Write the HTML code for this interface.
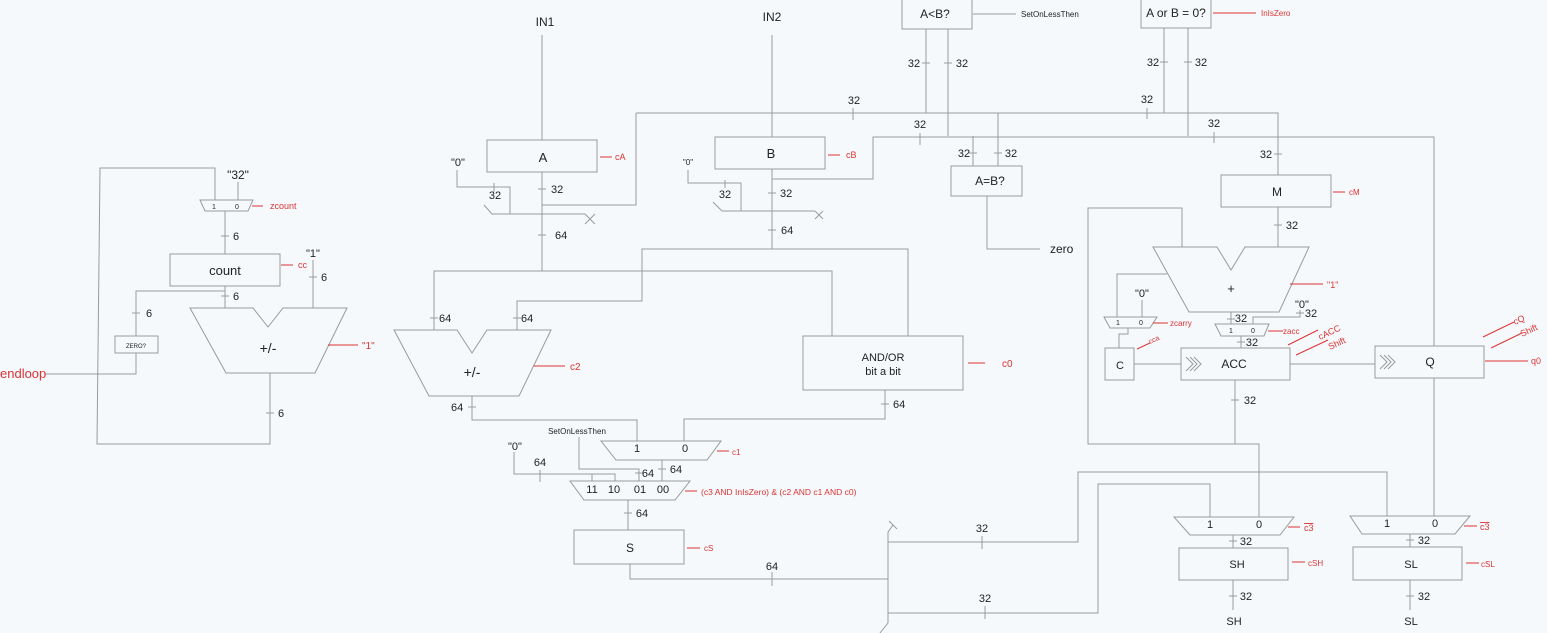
<!DOCTYPE html>
<html><head><meta charset="utf-8"><style>
html,body{margin:0;padding:0;background:#f5f9fc;}
svg{display:block;}
text{font-family:"Liberation Sans",sans-serif;fill:#222;}
.r{fill:#d33;}
</style></head><body>
<svg width="1547" height="633" viewBox="0 0 1547 633" xmlns="http://www.w3.org/2000/svg">
<rect width="1547" height="633" fill="#f5f9fc"/>
<g fill="none" stroke="#9a9a9a" stroke-width="1">
<!-- LEFT counter -->
<polyline points="215,200 215,168 100,168 97,444 270,444 270,373"/>
<polygon points="200,200 253,200 248,211 205,211"/>
<line x1="238" y1="182" x2="238" y2="200"/>
<line x1="225" y1="211" x2="225" y2="254"/>
<line x1="221" y1="236" x2="229" y2="236"/>
<rect x="170" y="254" width="110" height="32"/>
<line x1="313" y1="260" x2="313" y2="308"/>
<line x1="309" y1="277" x2="317" y2="277"/>
<line x1="225" y1="286" x2="225" y2="308"/>
<line x1="221" y1="296" x2="229" y2="296"/>
<polyline points="225,291 136,291 136,336"/>
<line x1="132" y1="313" x2="140" y2="313"/>
<rect x="115" y="336" width="43" height="17"/>
<polyline points="136,353 136,374 45,374"/>
<polygon points="190,308 253,308 268,327 283,308 347,308 315,373 226,373"/>
<line x1="266" y1="413" x2="274" y2="413"/>
<line x1="252" y1="206" x2="263" y2="206" stroke="#d33"/>
<line x1="281" y1="265" x2="293" y2="265" stroke="#d33"/>
<line x1="328" y1="345" x2="358" y2="345" stroke="#d33"/>
<line x1="45" y1="374" x2="136" y2="374"/>

<!-- A section -->
<line x1="542" y1="35" x2="542" y2="140"/>
<rect x="487" y="140" width="110" height="32"/>
<line x1="600" y1="157" x2="612" y2="157" stroke="#d33"/>
<polyline points="457,170 457,187 510,187 510,214"/>
<line x1="494" y1="183" x2="494" y2="192"/>
<polyline points="484,205 492,214 585,214"/>
<line x1="585" y1="214" x2="595" y2="224"/><line x1="595" y1="214" x2="585" y2="224"/>
<line x1="542" y1="172" x2="542" y2="271"/>
<line x1="538" y1="189" x2="546" y2="189"/>
<line x1="538" y1="235" x2="546" y2="235"/>
<polyline points="542,205 636,205 636,113"/>
<polyline points="434,330 434,271 832,271 832,336"/>
<line x1="430" y1="318" x2="438" y2="318"/>
<polyline points="517,330 517,301 642,301 642,249 908,249 908,336"/>
<line x1="513" y1="318" x2="521" y2="318"/>
<polygon points="394,330 457,330 472,353 487,330 551,330 519,396 429,396"/>
<line x1="534" y1="366" x2="565" y2="366" stroke="#d33"/>
<polyline points="472,396 472,420 637,420 637,441"/>
<line x1="468" y1="407" x2="476" y2="407"/>
<rect x="803" y="336" width="160" height="54"/>
<line x1="968" y1="363" x2="985" y2="363" stroke="#d33"/>
<polyline points="885,390 885,419 684,419 684,441"/>
<line x1="881" y1="404" x2="889" y2="404"/>

<!-- B section -->
<line x1="772" y1="35" x2="772" y2="137"/>
<rect x="715" y="137" width="110" height="32"/>
<line x1="828" y1="155" x2="840" y2="155" stroke="#d33"/>
<polyline points="688,170 688,183 741,183 741,211"/>
<line x1="725" y1="180" x2="725" y2="188"/>
<polyline points="713,202 722,211 815,211"/>
<line x1="815" y1="211" x2="823" y2="219"/><line x1="823" y1="211" x2="815" y2="219"/>
<line x1="772" y1="169" x2="772" y2="249"/>
<line x1="768" y1="193" x2="776" y2="193"/>
<line x1="768" y1="230" x2="776" y2="230"/>
<polyline points="772,179 873,179 873,137 1434,137 1434,516"/>
<line x1="920" y1="133" x2="920" y2="145"/>
<line x1="1214" y1="132" x2="1214" y2="143"/>

<!-- top comparators -->
<rect x="902" y="-2" width="70" height="31"/>
<line x1="973" y1="14" x2="1016" y2="14"/>
<line x1="926" y1="29" x2="926" y2="113"/>
<line x1="948" y1="29" x2="948" y2="136"/>
<line x1="922" y1="63" x2="930" y2="63"/><line x1="944" y1="63" x2="952" y2="63"/>
<rect x="1141" y="-2" width="70" height="30"/>
<line x1="1213" y1="13" x2="1256" y2="13" stroke="#d33"/>
<line x1="1164" y1="28" x2="1164" y2="113"/>
<line x1="1188" y1="28" x2="1188" y2="136"/>
<line x1="1160" y1="62" x2="1168" y2="62"/><line x1="1184" y1="62" x2="1192" y2="62"/>
<polyline points="636,113 1278,113 1278,175"/>
<line x1="853" y1="108" x2="853" y2="120"/>
<line x1="1147" y1="108" x2="1147" y2="119"/>
<line x1="973" y1="136" x2="973" y2="166"/>
<line x1="998" y1="113" x2="998" y2="166"/>
<line x1="969" y1="153" x2="977" y2="153"/><line x1="994" y1="153" x2="1002" y2="153"/>
<rect x="951" y="166" width="71" height="30"/>
<polyline points="987,196 987,249 1040,249"/>
<line x1="1274" y1="154" x2="1282" y2="154"/>

<!-- muxes bottom middle -->
<polygon points="601,441 721,441 707,460 616,460"/>
<line x1="717" y1="451" x2="729" y2="451" stroke="#d33"/>
<line x1="662" y1="460" x2="662" y2="481"/>
<line x1="658" y1="469" x2="666" y2="469"/>
<polyline points="579,437 579,469 639,469 639,481"/>
<line x1="635" y1="473" x2="643" y2="473"/>
<polyline points="514,452 514,474 615,474 615,481"/>
<line x1="592" y1="474" x2="592" y2="481"/>
<line x1="540" y1="470" x2="540" y2="482"/>
<polygon points="570,481 690,481 675,500 584,500"/>
<line x1="685" y1="491" x2="697" y2="491" stroke="#d33"/>
<line x1="628" y1="500" x2="628" y2="530"/>
<line x1="624" y1="513" x2="632" y2="513"/>
<rect x="574" y="530" width="110" height="34"/>
<line x1="687" y1="548" x2="700" y2="548" stroke="#d33"/>
<polyline points="630,564 630,579 888,579"/>
<line x1="772" y1="572" x2="772" y2="586"/>
<polyline points="888,532 888,623 880,633"/>
<line x1="888" y1="532" x2="893" y2="525"/>
<line x1="889" y1="521" x2="897" y2="529"/>
<polyline points="888,542 1078,542 1078,472 1387,472 1387,516"/>
<line x1="982" y1="536" x2="982" y2="549"/>
<polyline points="888,613 1098,613 1098,484 1210,484 1210,517"/>
<line x1="985" y1="606" x2="985" y2="619"/>

<!-- right multiplier -->
<rect x="1221" y="175" width="110" height="32"/>
<line x1="1333" y1="192" x2="1345" y2="192" stroke="#d33"/>
<line x1="1278" y1="207" x2="1278" y2="247"/>
<line x1="1274" y1="225" x2="1282" y2="225"/>
<polygon points="1153,247 1217,247 1231,270 1245,247 1309,247 1279,312 1189,312"/>
<line x1="1290" y1="284" x2="1323" y2="284" stroke="#d33"/>
<polyline points="1182,247 1182,208 1088,208 1088,444 1259,444 1259,517"/>
<line x1="1231" y1="312" x2="1231" y2="324"/>
<line x1="1227" y1="319" x2="1235" y2="319"/>
<polyline points="1167,274 1117,274 1117,317"/>
<polygon points="1104,317 1157,317 1150,328 1110,328"/>
<line x1="1142" y1="300" x2="1142" y2="317"/>
<line x1="1153" y1="323" x2="1168" y2="323" stroke="#d33"/>
<polyline points="1128,328 1128,334 1119,334 1119,348"/>
<rect x="1105" y="348" width="29" height="32"/>
<line x1="1137" y1="349" x2="1150" y2="343" stroke="#d33"/>
<line x1="1134" y1="364" x2="1181" y2="364"/>
<polygon points="1215,324 1269,324 1264,336 1221,336"/>
<polyline points="1300,310 1300,317 1253,317 1253,324"/>
<line x1="1296" y1="313" x2="1304" y2="313"/>
<line x1="1268" y1="331" x2="1283" y2="331" stroke="#d33"/>
<line x1="1241" y1="336" x2="1241" y2="348"/>
<line x1="1237" y1="342" x2="1245" y2="342"/>
<rect x="1181" y="348" width="109" height="32"/>
<polyline points="1186,357 1193,364 1186,371"/><polyline points="1190,357 1197,364 1190,371"/><polyline points="1194,357 1201,364 1194,371"/>
<line x1="1288" y1="345" x2="1318" y2="330" stroke="#d33"/>
<line x1="1296" y1="355" x2="1328" y2="340" stroke="#d33"/>
<line x1="1290" y1="364" x2="1375" y2="364"/>
<rect x="1375" y="346" width="109" height="32" fill="#f5f9fc"/>
<polyline points="1380,355 1387,362 1380,369"/><polyline points="1384,355 1391,362 1384,369"/><polyline points="1388,355 1395,362 1388,369"/>
<line x1="1483" y1="337" x2="1514" y2="322" stroke="#d33"/>
<line x1="1491" y1="348" x2="1522" y2="333" stroke="#d33"/>
<line x1="1485" y1="361" x2="1528" y2="361" stroke="#d33"/>
<line x1="1235" y1="380" x2="1235" y2="444"/>
<line x1="1231" y1="400" x2="1239" y2="400"/>

<!-- SH / SL -->
<polygon points="1174,517 1294,517 1280,535 1190,535"/>
<line x1="1288" y1="527" x2="1300" y2="527" stroke="#d33"/>
<line x1="1233" y1="535" x2="1233" y2="548"/>
<line x1="1229" y1="541" x2="1237" y2="541"/>
<rect x="1179" y="548" width="109" height="32"/>
<line x1="1292" y1="562" x2="1305" y2="562" stroke="#d33"/>
<line x1="1233" y1="580" x2="1233" y2="610"/>
<line x1="1229" y1="596" x2="1237" y2="596"/>
<polygon points="1350,516 1470,516 1455,534 1362,534"/>
<line x1="1464" y1="526" x2="1477" y2="526" stroke="#d33"/>
<line x1="1410" y1="534" x2="1410" y2="547"/>
<line x1="1406" y1="540" x2="1414" y2="540"/>
<rect x="1353" y="547" width="109" height="33"/>
<line x1="1466" y1="563" x2="1479" y2="563" stroke="#d33"/>
<line x1="1410" y1="580" x2="1410" y2="610"/>
<line x1="1406" y1="596" x2="1414" y2="596"/>
</g>

<g font-size="11">
<!-- left -->
<text x="238" y="179" text-anchor="middle" font-size="12">"32"</text>
<text x="214" y="209" text-anchor="middle" font-size="7">1</text>
<text x="237" y="209" text-anchor="middle" font-size="7">0</text>
<text class="r" x="270" y="209" font-size="9">zcount</text>
<text x="233" y="240">6</text>
<text x="225" y="275" text-anchor="middle" font-size="13">count</text>
<text class="r" x="298" y="268" font-size="9">cc</text>
<text x="313" y="257" text-anchor="middle">"1"</text>
<text x="321" y="281">6</text>
<text x="233" y="300">6</text>
<text x="146" y="317">6</text>
<text x="136" y="348" text-anchor="middle" font-size="6">ZERO?</text>
<text class="r" x="0" y="378" font-size="13">endloop</text>
<text x="268" y="353" text-anchor="middle" font-size="14">+/-</text>
<text class="r" x="362" y="349" font-size="10">"1"</text>
<text x="278" y="417">6</text>
<!-- A/B -->
<text x="545" y="26" text-anchor="middle" font-size="12">IN1</text>
<text x="772" y="21" text-anchor="middle" font-size="12">IN2</text>
<text x="543" y="162" text-anchor="middle" font-size="13">A</text>
<text class="r" x="615" y="160" font-size="9">cA</text>
<text x="458" y="166" text-anchor="middle">"0"</text>
<text x="495" y="199" text-anchor="middle">32</text>
<text x="551" y="193">32</text>
<text x="555" y="239">64</text>
<text x="771" y="158" text-anchor="middle" font-size="13">B</text>
<text class="r" x="846" y="158" font-size="9">cB</text>
<text x="688" y="165" text-anchor="middle" font-size="8">"0"</text>
<text x="725" y="198" text-anchor="middle">32</text>
<text x="780" y="197">32</text>
<text x="781" y="234">64</text>
<text x="439" y="322">64</text>
<text x="521" y="322">64</text>
<text x="472" y="377" text-anchor="middle" font-size="14">+/-</text>
<text class="r" x="570" y="370" font-size="10">c2</text>
<text x="451" y="411">64</text>
<text x="883" y="361" text-anchor="middle" font-size="11">AND/OR</text>
<text x="883" y="375" text-anchor="middle" font-size="11">bit a bit</text>
<text class="r" x="1002" y="367" font-size="10">c0</text>
<text x="893" y="408">64</text>
<!-- top -->
<text x="935" y="18" text-anchor="middle" font-size="12">A&lt;B?</text>
<text x="1021" y="17" font-size="8">SetOnLessThen</text>
<text x="1176" y="17" text-anchor="middle" font-size="12">A or B = 0?</text>
<text class="r" x="1261" y="16" font-size="8">InIsZero</text>
<text x="914" y="67" text-anchor="middle">32</text>
<text x="962" y="67" text-anchor="middle">32</text>
<text x="1153" y="66" text-anchor="middle">32</text>
<text x="1201" y="66" text-anchor="middle">32</text>
<text x="854" y="104" text-anchor="middle">32</text>
<text x="1147" y="103" text-anchor="middle">32</text>
<text x="920" y="128" text-anchor="middle">32</text>
<text x="1214" y="127" text-anchor="middle">32</text>
<text x="964" y="157" text-anchor="middle">32</text>
<text x="1011" y="157" text-anchor="middle">32</text>
<text x="990" y="185" text-anchor="middle" font-size="12">A=B?</text>
<text x="1050" y="253" font-size="12">zero</text>
<text x="1266" y="158" text-anchor="middle">32</text>
<!-- bottom middle -->
<text x="577" y="434" text-anchor="middle" font-size="8">SetOnLessThen</text>
<text x="637" y="452" text-anchor="middle">1</text>
<text x="685" y="452" text-anchor="middle">0</text>
<text class="r" x="732" y="455" font-size="8">c1</text>
<text x="676" y="473" text-anchor="middle">64</text>
<text x="648" y="477" text-anchor="middle">64</text>
<text x="515" y="450" text-anchor="middle">"0"</text>
<text x="540" y="466" text-anchor="middle">64</text>
<text x="592" y="493" text-anchor="middle">11</text>
<text x="614" y="493" text-anchor="middle">10</text>
<text x="640" y="493" text-anchor="middle">01</text>
<text x="663" y="493" text-anchor="middle">00</text>
<text class="r" x="701" y="495" font-size="8.5">(c3 AND InIsZero) &amp; (c2 AND c1 AND c0)</text>
<text x="642" y="517" text-anchor="middle">64</text>
<text x="630" y="552" text-anchor="middle" font-size="12">S</text>
<text class="r" x="704" y="551" font-size="8">cS</text>
<text x="772" y="570" text-anchor="middle">64</text>
<text x="982" y="532" text-anchor="middle">32</text>
<text x="985" y="602" text-anchor="middle">32</text>
<!-- right -->
<text x="1277" y="196" text-anchor="middle" font-size="12">M</text>
<text class="r" x="1349" y="195" font-size="8">cM</text>
<text x="1292" y="229" text-anchor="middle">32</text>
<text x="1231" y="293" text-anchor="middle" font-size="13">+</text>
<text class="r" x="1327" y="288" font-size="9">"1"</text>
<text x="1142" y="297" text-anchor="middle">"0"</text>
<text x="1118" y="325" text-anchor="middle" font-size="7">1</text>
<text x="1141" y="325" text-anchor="middle" font-size="7">0</text>
<text class="r" x="1170" y="326" font-size="8">zcarry</text>
<text x="1302" y="308" text-anchor="middle">"0"</text>
<text x="1311" y="317" text-anchor="middle">32</text>
<text x="1241" y="322" text-anchor="middle">32</text>
<text x="1231" y="333" text-anchor="middle" font-size="7">1</text>
<text x="1253" y="333" text-anchor="middle" font-size="7">0</text>
<text class="r" x="1283" y="334" font-size="8">zacc</text>
<text x="1252" y="346" text-anchor="middle">32</text>
<text x="1120" y="369" text-anchor="middle" font-size="11">C</text>
<text class="r" x="1150" y="344" font-size="7" transform="rotate(-25 1150 344)">cca</text>
<text x="1234" y="368" text-anchor="middle" font-size="12">ACC</text>
<text class="r" x="1320" y="340" font-size="9" transform="rotate(-25 1320 340)">cACC</text>
<text class="r" x="1330" y="350" font-size="9" transform="rotate(-25 1330 350)">Shift</text>
<text x="1430" y="366" text-anchor="middle" font-size="12">Q</text>
<text class="r" x="1515" y="325" font-size="9" transform="rotate(-25 1515 325)">cQ</text>
<text class="r" x="1522" y="337" font-size="9" transform="rotate(-25 1522 337)">Shift</text>
<text class="r" x="1531" y="364" font-size="9">q0</text>
<text x="1250" y="404" text-anchor="middle">32</text>
<text x="1210" y="528" text-anchor="middle">1</text>
<text x="1259" y="528" text-anchor="middle">0</text>
<text class="r" x="1304" y="531" font-size="9" text-decoration="overline">c3</text>
<text x="1246" y="545" text-anchor="middle">32</text>
<text x="1237" y="568" text-anchor="middle" font-size="11">SH</text>
<text class="r" x="1308" y="566" font-size="8">cSH</text>
<text x="1246" y="600" text-anchor="middle">32</text>
<text x="1234" y="625" text-anchor="middle" font-size="11">SH</text>
<text x="1387" y="527" text-anchor="middle">1</text>
<text x="1435" y="527" text-anchor="middle">0</text>
<text class="r" x="1480" y="530" font-size="9" text-decoration="overline">c3</text>
<text x="1424" y="544" text-anchor="middle">32</text>
<text x="1411" y="568" text-anchor="middle" font-size="11">SL</text>
<text class="r" x="1481" y="567" font-size="8">cSL</text>
<text x="1424" y="600" text-anchor="middle">32</text>
<text x="1411" y="625" text-anchor="middle" font-size="11">SL</text>
</g>
</svg>
</body></html>
